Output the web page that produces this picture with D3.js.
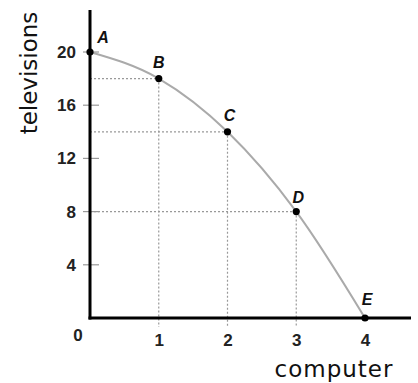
<!DOCTYPE html>
<html>
<head>
<meta charset="utf-8">
<script src="https://cdn.jsdelivr.net/npm/d3@7"></script>
<style>
  html, body { margin: 0; padding: 0; background: #fff; }
  svg { display: block; }
</style>
</head>
<body>
<svg id="chart" width="418" height="383"></svg>
<script>
// Production possibilities: computers vs televisions
const pointLabels = ["A", "B", "C", "D", "E"];
const computers   = [0, 1, 2, 3, 4];
const televisions = [20, 18, 14, 8, 0];
const xTicks = [1, 2, 3, 4];
const yTicks = [4, 8, 12, 16, 20];

const svg = d3.select("#chart");
const x = d3.scaleLinear().domain([0, 4]).range([90, 365]);
const y = d3.scaleLinear().domain([0, 20]).range([318, 52]);

const pts = computers.map((c, i) => ({ label: pointLabels[i], x: c, y: televisions[i] }));

// dotted guide lines from each interior point to both axes
const guides = svg.append("g").attr("stroke", "#999").attr("stroke-width", 1.2)
  .attr("stroke-dasharray", "2,2").attr("fill", "none");
pts.filter(p => p.x > 0 && p.y > 0).forEach(p => {
  guides.append("line").attr("x1", x(0)).attr("x2", x(p.x)).attr("y1", y(p.y)).attr("y2", y(p.y));
  guides.append("line").attr("x1", x(p.x)).attr("x2", x(p.x)).attr("y1", y(p.y)).attr("y2", y(0) + 9);
});

// frontier curve
svg.append("path")
  .datum(pts)
  .attr("fill", "none")
  .attr("stroke", "#aaa")
  .attr("stroke-width", 2)
  .attr("d", d3.line().x(d => x(d.x)).y(d => y(d.y)).curve(d3.curveMonotoneX));

// y ticks crossing the axis
svg.append("g").selectAll("line").data(yTicks).join("line")
  .attr("x1", x(0) - 7).attr("x2", x(0) + 9)
  .attr("y1", d => y(d)).attr("y2", d => y(d))
  .attr("stroke", "#999").attr("stroke-width", 1.2);

// axes lines
svg.append("line").attr("x1", x(0)).attr("x2", x(0)).attr("y1", 10).attr("y2", y(0) + 1.5)
  .attr("stroke", "#000").attr("stroke-width", 3);
svg.append("line").attr("x1", x(0) - 1.5).attr("x2", 411).attr("y1", y(0)).attr("y2", y(0))
  .attr("stroke", "#000").attr("stroke-width", 3);

// tick labels via d3 axes
const yAxis = svg.append("g").attr("transform", `translate(${x(0)},0)`)
  .call(d3.axisLeft(y).tickValues(yTicks).tickFormat(d3.format("d")).tickSize(0).tickPadding(14));
const xAxis = svg.append("g").attr("transform", `translate(0,${y(0)})`)
  .call(d3.axisBottom(x).tickValues(xTicks).tickFormat(d3.format("d")).tickSize(0).tickPadding(16));
[yAxis, xAxis].forEach(a => {
  a.select(".domain").remove();
  a.selectAll("text").attr("font-family", "Liberation Sans, Arial, sans-serif")
    .attr("font-weight", "bold").attr("font-size", 17).attr("fill", "#222");
});
svg.append("text").attr("x", 78).attr("y", 341).attr("text-anchor", "middle")
  .attr("font-family", "Liberation Sans, Arial, sans-serif").attr("font-weight", "bold")
  .attr("font-size", 17).attr("fill", "#222").text("0");

// points
svg.append("g").selectAll("circle").data(pts).join("circle")
  .attr("cx", d => x(d.x)).attr("cy", d => y(d.y)).attr("r", 3.6).attr("fill", "#000");

// point labels
const labelOffsets = { A: [13, -9], B: [0, -11], C: [2, -11], D: [2, -9], E: [2, -13] };
svg.append("g").selectAll("text").data(pts).join("text")
  .attr("x", d => x(d.x) + labelOffsets[d.label][0])
  .attr("y", d => y(d.y) + labelOffsets[d.label][1])
  .attr("text-anchor", "middle")
  .attr("font-family", "Liberation Sans, Arial, sans-serif")
  .attr("font-weight", "bold").attr("font-style", "italic").attr("font-size", 16)
  .attr("fill", "#111")
  .text(d => d.label);

// axis titles
svg.append("text").attr("transform", "translate(37,73) rotate(-90)")
  .attr("text-anchor", "middle").attr("font-family", "DejaVu Sans, sans-serif")
  .attr("font-size", 23).attr("fill", "#111").text("televisions");
svg.append("text").attr("x", 334).attr("y", 377)
  .attr("text-anchor", "middle").attr("font-family", "DejaVu Sans, sans-serif")
  .attr("font-size", 23).attr("letter-spacing", 1).attr("fill", "#111").text("computer");
</script>
</body>
</html>
